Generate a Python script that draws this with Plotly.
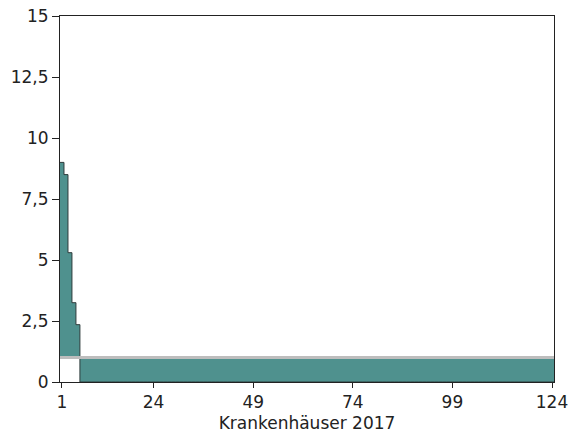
import plotly.graph_objects as go

# Data
hospitals = list(range(1, 125))
values = [9.0, 8.5, 5.3, 3.25, 2.35] + [0.0] * 119
reference = 1.0
x_ticks = [1, 24, 49, 74, 99, 124]
y_ticks = [0, 2.5, 5, 7.5, 10, 12.5, 15]
y_tick_labels = ["0", "2,5", "5", "7,5", "10", "12,5", "15"]
x_title = "Krankenhäuser 2017"

# step edges derived from hospital ranks
x_edges = [h - 0.5 for h in hospitals] + [hospitals[-1] + 0.5]
y_steps = values + [values[-1]]
y_ref = [reference] * len(x_edges)

teal = "#4f918e"
outline = "#2e3b3b"

fig = go.Figure()
fig.add_trace(go.Scatter(x=x_edges, y=y_ref, mode="lines", line=dict(width=0, shape="hv"),
                         hoverinfo="skip", showlegend=False))
fig.add_trace(go.Scatter(x=x_edges, y=y_steps, mode="lines", fill="tonexty", fillcolor=teal,
                         line=dict(color=outline, width=1, shape="hv"), showlegend=False))
fig.add_trace(go.Scatter(x=[x_edges[0], x_edges[-1]], y=[reference, reference], mode="lines",
                         line=dict(color="#bdbdbd", width=3), showlegend=False, hoverinfo="skip"))

axis_font = dict(family="DejaVu Sans", size=17, color="#222222")
fig.update_layout(
    width=569, height=434,
    margin=dict(l=60, r=15, t=16, b=52),
    paper_bgcolor="white", plot_bgcolor="white",
    separators=",.",
    font=axis_font,
    xaxis=dict(range=[x_edges[0], x_edges[-1]], tickvals=x_ticks, ticks="outside", ticklen=5,
               tickcolor="#222222", showline=True, linecolor="#222222", linewidth=1, mirror=True,
               showgrid=False, zeroline=False, tickfont=axis_font, automargin=False,
               ticklabeloverflow="allow",
               title=dict(text=x_title, font=axis_font, standoff=5)),
    yaxis=dict(range=[0, 15], tickvals=y_ticks, ticktext=y_tick_labels, ticks="outside", ticklen=7,
               tickcolor="#222222", showline=True, linecolor="#222222", linewidth=1, mirror=True,
               showgrid=False, zeroline=False, tickfont=axis_font, automargin=False,
               ticklabeloverflow="allow"),
)

fig.write_html("out.html", config={"displayModeBar": False},
               post_script="document.body.style.margin='0';document.body.style.overflow='hidden';")
